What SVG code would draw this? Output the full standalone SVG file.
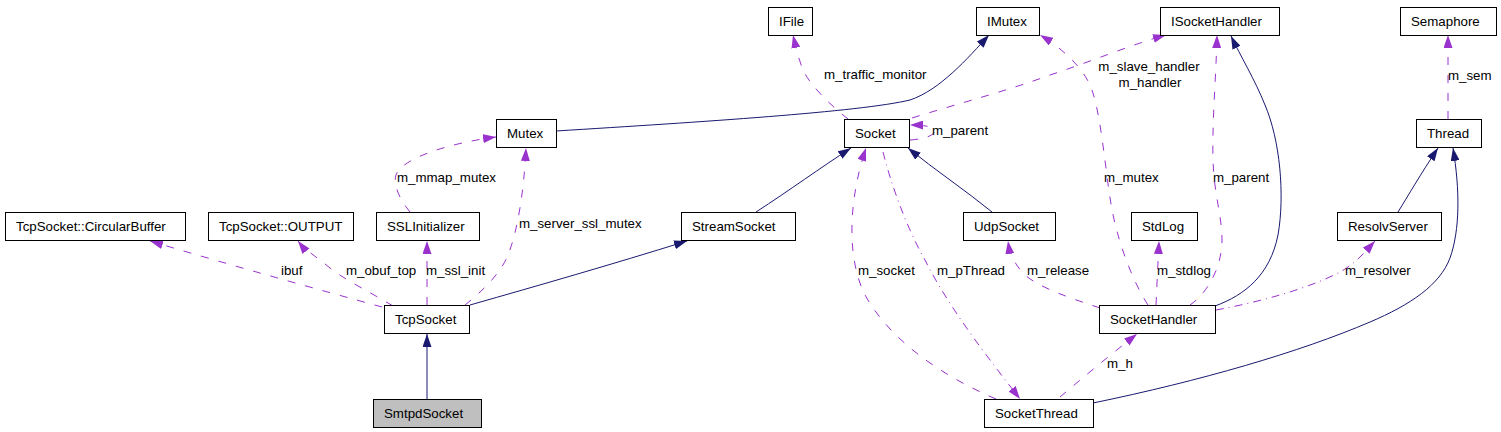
<svg xmlns="http://www.w3.org/2000/svg" width="1501" height="432" viewBox="0 0 1501 432">
<style>
.n rect{fill:#fff;stroke:#000;stroke-width:1}
.n text,.lbl{font-family:"Liberation Sans",Arial,sans-serif;font-size:13.3px;fill:#000}
.inh{fill:none;stroke:#191970;stroke-width:1;marker-end:url(#ai)}
.use{fill:none;stroke:#9a32cd;stroke-width:1;stroke-dasharray:8,10;marker-end:url(#au)}
.dd{stroke-dasharray:8,5,1,5}
</style>
<defs>
<marker id="ai" viewBox="0 0 13 9" markerWidth="13" markerHeight="9" refX="13" refY="4.5" orient="auto" markerUnits="userSpaceOnUse"><path d="M0,0 L13,4.5 L0,9 Z" fill="#191970" stroke="none"/></marker>
<marker id="au" viewBox="0 0 13 9" markerWidth="13" markerHeight="9" refX="13" refY="4.5" orient="auto" markerUnits="userSpaceOnUse"><path d="M0,0 L13,4.5 L0,9 Z" fill="#9a32cd" stroke="none"/></marker>
</defs>
<rect width="1501" height="432" fill="#fff"/>
<g id="edges">
<path class="inh" d="M427,399 L427,334"/>
<path class="inh" d="M470,305 C540,285 610,265 687,241"/>
<path class="inh" d="M756,212 C790,190 820,168 851,148"/>
<path class="inh" d="M992,212 C965,190 935,170 908,148"/>
<path class="inh" d="M556,131 C700,122 860,112 910,100 C940,90 968,58 989,35"/>
<path class="use" d="M848,119 C830,105 810,85 803,70 C799,60 796,48 793,35"/>
<path class="use" d="M912,118 C960,103 1010,90 1050,75 C1090,62 1130,45 1166,35"/>
<path class="use" d="M910,140 C925,139 936,135 934,130 C932,126 922,125 910,125"/>
<path class="use" d="M410,212 C400,200 393,185 396,175 C402,158 450,143 496,137"/>
<path class="use" d="M465,305 C480,293 500,275 508,255 C518,230 524,190 526,148"/>
<path class="use" d="M427,305 L427,241"/>
<path class="use" d="M393,306 C370,292 345,280 330,268 C318,258 305,250 298,241"/>
<path class="use" d="M382,307 C320,290 230,265 150,241"/>
<path class="use" d="M996,399 C940,375 890,340 865,295 C845,255 850,195 866,148"/>
<path class="use dd" d="M883,152 C890,180 905,225 925,260 C950,310 990,360 1020,399"/>
<path class="use" d="M1100,308 C1070,298 1040,288 1025,275 C1015,265 1010,255 1008,241"/>
<path class="use" d="M1156,305 L1159,241"/>
<path class="use" d="M1148,305 C1135,285 1120,250 1112,210 C1105,170 1102,120 1092,90 C1085,70 1065,50 1040,35"/>
<path class="use" d="M1190,305 C1205,295 1222,270 1222,240 C1222,215 1214,195 1213,160 C1212,120 1216,80 1217,35"/>
<path class="inh" d="M1215,306 C1245,295 1270,275 1278,235 C1285,195 1280,140 1265,105 C1255,80 1240,55 1231,36"/>
<path class="use dd" d="M1216,310 C1260,302 1310,288 1340,272 C1355,264 1365,252 1375,241"/>
<path class="inh" d="M1398,212 C1408,196 1420,175 1438,148"/>
<path class="inh" d="M1093,403 C1200,381 1300,352 1370,322 C1410,305 1440,285 1450,258 C1460,230 1460,190 1453,148"/>
<path class="use" d="M1448,119 L1448,35"/>
<path class="use" d="M1060,397 C1080,380 1110,355 1137,334"/>
<text class="lbl" x="824" y="79">m_traffic_monitor</text>
<text class="lbl" x="1149" y="71" text-anchor="middle">m_slave_handler</text>
<text class="lbl" x="1150" y="87" text-anchor="middle">m_handler</text>
<text class="lbl" x="932" y="135">m_parent</text>
<text class="lbl" x="397" y="182">m_mmap_mutex</text>
<text class="lbl" x="519" y="228">m_server_ssl_mutex</text>
<text class="lbl" x="426" y="275">m_ssl_init</text>
<text class="lbl" x="346" y="275">m_obuf_top</text>
<text class="lbl" x="281" y="275">ibuf</text>
<text class="lbl" x="858" y="275">m_socket</text>
<text class="lbl" x="937" y="275">m_pThread</text>
<text class="lbl" x="1027" y="275">m_release</text>
<text class="lbl" x="1157" y="275">m_stdlog</text>
<text class="lbl" x="1104" y="182">m_mutex</text>
<text class="lbl" x="1213" y="182">m_parent</text>
<text class="lbl" x="1345" y="275">m_resolver</text>
<text class="lbl" x="1448" y="80">m_sem</text>
<text class="lbl" x="1107" y="368">m_h</text>
</g>
<g id="n_circbuf" class="n"><rect x="5.5" y="212.5" width="180" height="28"/><text x="16" y="230.5">TcpSocket::CircularBuffer</text></g>
<g id="n_output" class="n"><rect x="208.5" y="212.5" width="145" height="28"/><text x="219" y="230.5">TcpSocket::OUTPUT</text></g>
<g id="n_sslinit" class="n"><rect x="376.5" y="212.5" width="103" height="28"/><text x="387" y="230.5">SSLInitializer</text></g>
<g id="n_tcpsocket" class="n"><rect x="384.5" y="305.5" width="85" height="28"/><text x="395" y="323.5">TcpSocket</text></g>
<g id="n_smtpdsocket" class="n"><rect x="373.5" y="399.5" width="108" height="28" style="fill:#bfbfbf"/><text x="384" y="417.5">SmtpdSocket</text></g>
<g id="n_mutex" class="n"><rect x="496.5" y="119.5" width="60" height="28"/><text x="507" y="137.5">Mutex</text></g>
<g id="n_ifile" class="n"><rect x="768.5" y="7.5" width="44" height="28"/><text x="779" y="25.5">IFile</text></g>
<g id="n_socket" class="n"><rect x="844.5" y="119.5" width="65" height="28"/><text x="855" y="137.5">Socket</text></g>
<g id="n_imutex" class="n"><rect x="976.5" y="7.5" width="63" height="28"/><text x="987" y="25.5">IMutex</text></g>
<g id="n_isockethandler" class="n"><rect x="1160.5" y="7.5" width="119" height="28"/><text x="1171" y="25.5">ISocketHandler</text></g>
<g id="n_semaphore" class="n"><rect x="1400.5" y="7.5" width="96" height="28"/><text x="1411" y="25.5">Semaphore</text></g>
<g id="n_thread" class="n"><rect x="1416.5" y="119.5" width="65" height="28"/><text x="1427" y="137.5">Thread</text></g>
<g id="n_streamsocket" class="n"><rect x="681.5" y="212.5" width="114" height="28"/><text x="692" y="230.5">StreamSocket</text></g>
<g id="n_udpsocket" class="n"><rect x="963.5" y="212.5" width="92" height="28"/><text x="974" y="230.5">UdpSocket</text></g>
<g id="n_stdlog" class="n"><rect x="1131.5" y="212.5" width="66" height="28"/><text x="1142" y="230.5">StdLog</text></g>
<g id="n_resolvserver" class="n"><rect x="1337.5" y="212.5" width="104" height="28"/><text x="1348" y="230.5">ResolvServer</text></g>
<g id="n_sockethandler" class="n"><rect x="1099.5" y="305.5" width="116" height="28"/><text x="1110" y="323.5">SocketHandler</text></g>
<g id="n_socketthread" class="n"><rect x="984.5" y="399.5" width="109" height="28"/><text x="995" y="417.5">SocketThread</text></g>
</svg>
